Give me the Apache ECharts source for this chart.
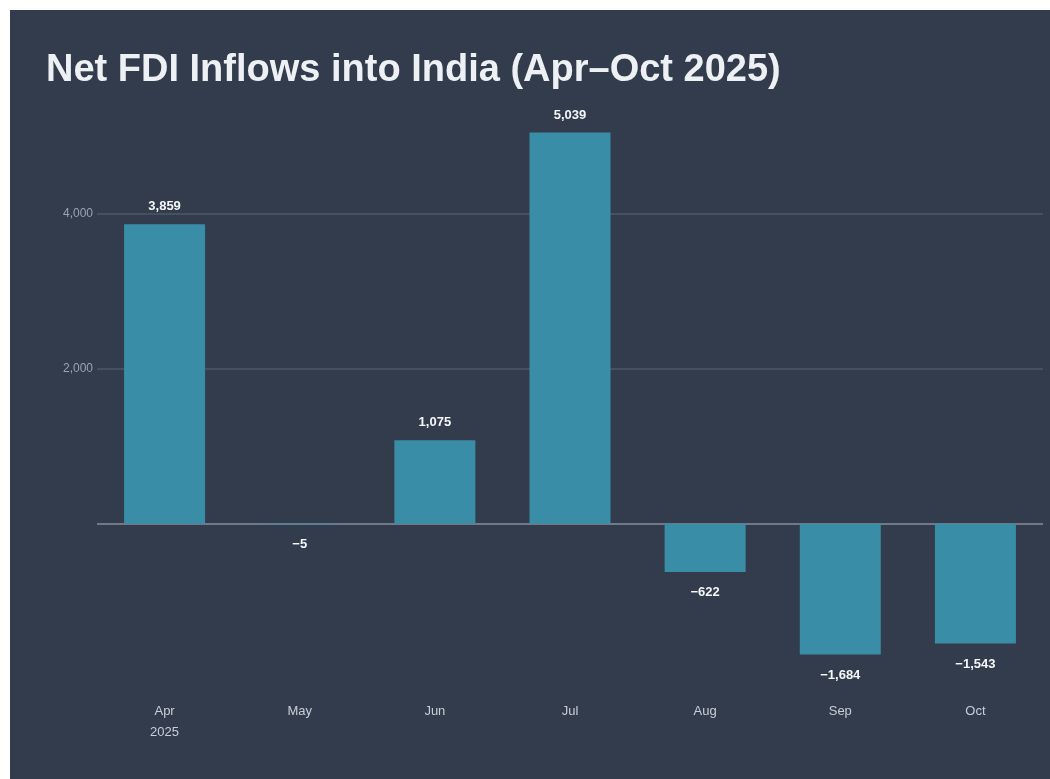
<!DOCTYPE html>
<html>
<head>
	<meta charset="utf-8">
	<title>Net FDI Inflows into India</title>
	<script src="https://cdn.jsdelivr.net/npm/echarts@6/dist/echarts.min.js"></script>
	<style>
		html, body { margin: 0; padding: 0; background: #ffffff; }
		#main {
			position: absolute;
			left: 10px;
			top: 10px;
			width: 1040px;
			height: 769px;
			background: #323c4d;
		}
	</style>
</head>
<body>
	<div id="main"></div>
	<script type="text/javascript">
		// months and net FDI values (US$ million)
		var months = ['Apr\n2025', 'May', 'Jun', 'Jul', 'Aug', 'Sep', 'Oct'];
		var netFdi = [3859, -5, 1075, 5039, -622, -1684, -1543];
		var gridValues = [2000, 4000];
		var tickLabels = [2000, 4000];

		function fmt(v) {
			var s = Math.abs(v).toLocaleString('en-US');
			return v < 0 ? '\u2212' + s : s;
		}

		var myChart = echarts.init(document.getElementById('main'));

		var gridLines = gridValues.map(function (v) {
			return { yAxis: v, lineStyle: { color: '#4c5769', width: 1.5, type: 'solid' } };
		});
		gridLines.push({ yAxis: 0, lineStyle: { color: '#6f7988', width: 2, type: 'solid' } });

		myChart.setOption({
			backgroundColor: '#323c4d',
			animation: false,
			title: {
				text: 'Net FDI Inflows into India (Apr\u2013Oct 2025)',
				left: 31,
				top: 37,
				textStyle: {
					color: '#eef1f4',
					fontFamily: 'Liberation Sans, Arial, sans-serif',
					fontWeight: 'bold',
					fontSize: 38
				}
			},
			grid: {
				left: 87,
				right: 7,
				top: 48,
				bottom: 100
			},
			xAxis: {
				type: 'category',
				data: months,
				axisLine: { show: false, onZero: false },
				axisTick: { show: false },
				axisLabel: {
					color: '#c9ced6',
					fontSize: 13,
					lineHeight: 21,
					margin: 22,
					fontFamily: 'Liberation Sans, Arial, sans-serif'
				}
			},
			yAxis: {
				type: 'value',
				min: -2000,
				max: 6000,
				interval: 2000,
				splitLine: { show: false },
				axisLine: { show: false },
				axisTick: { show: false },
				axisLabel: {
					color: '#9aa3b0',
					fontSize: 12,
					margin: 4,
					fontFamily: 'Liberation Sans, Arial, sans-serif',
					formatter: function (v) {
						return tickLabels.indexOf(v) >= 0 ? fmt(v) : '';
					}
				}
			},
			series: [{
				type: 'bar',
				data: netFdi.map(function (v) {
					return {
						value: v,
						label: {
							position: v < 0 ? 'bottom' : 'top',
							distance: v < 0 ? 14 : 11
						}
					};
				}),
				barWidth: 81,
				itemStyle: { color: '#3a8da7' },
				label: {
					show: true,
					color: '#f4f6f8',
					fontSize: 13,
					fontWeight: 'bold',
					fontFamily: 'Liberation Sans, Arial, sans-serif',
					formatter: function (p) { return fmt(p.value); }
				},
				markLine: {
					silent: true,
					symbol: 'none',
					label: { show: false },
					z: 1,
					data: gridLines
				},
				z: 3
			}]
		});
	</script>
</body>
</html>
